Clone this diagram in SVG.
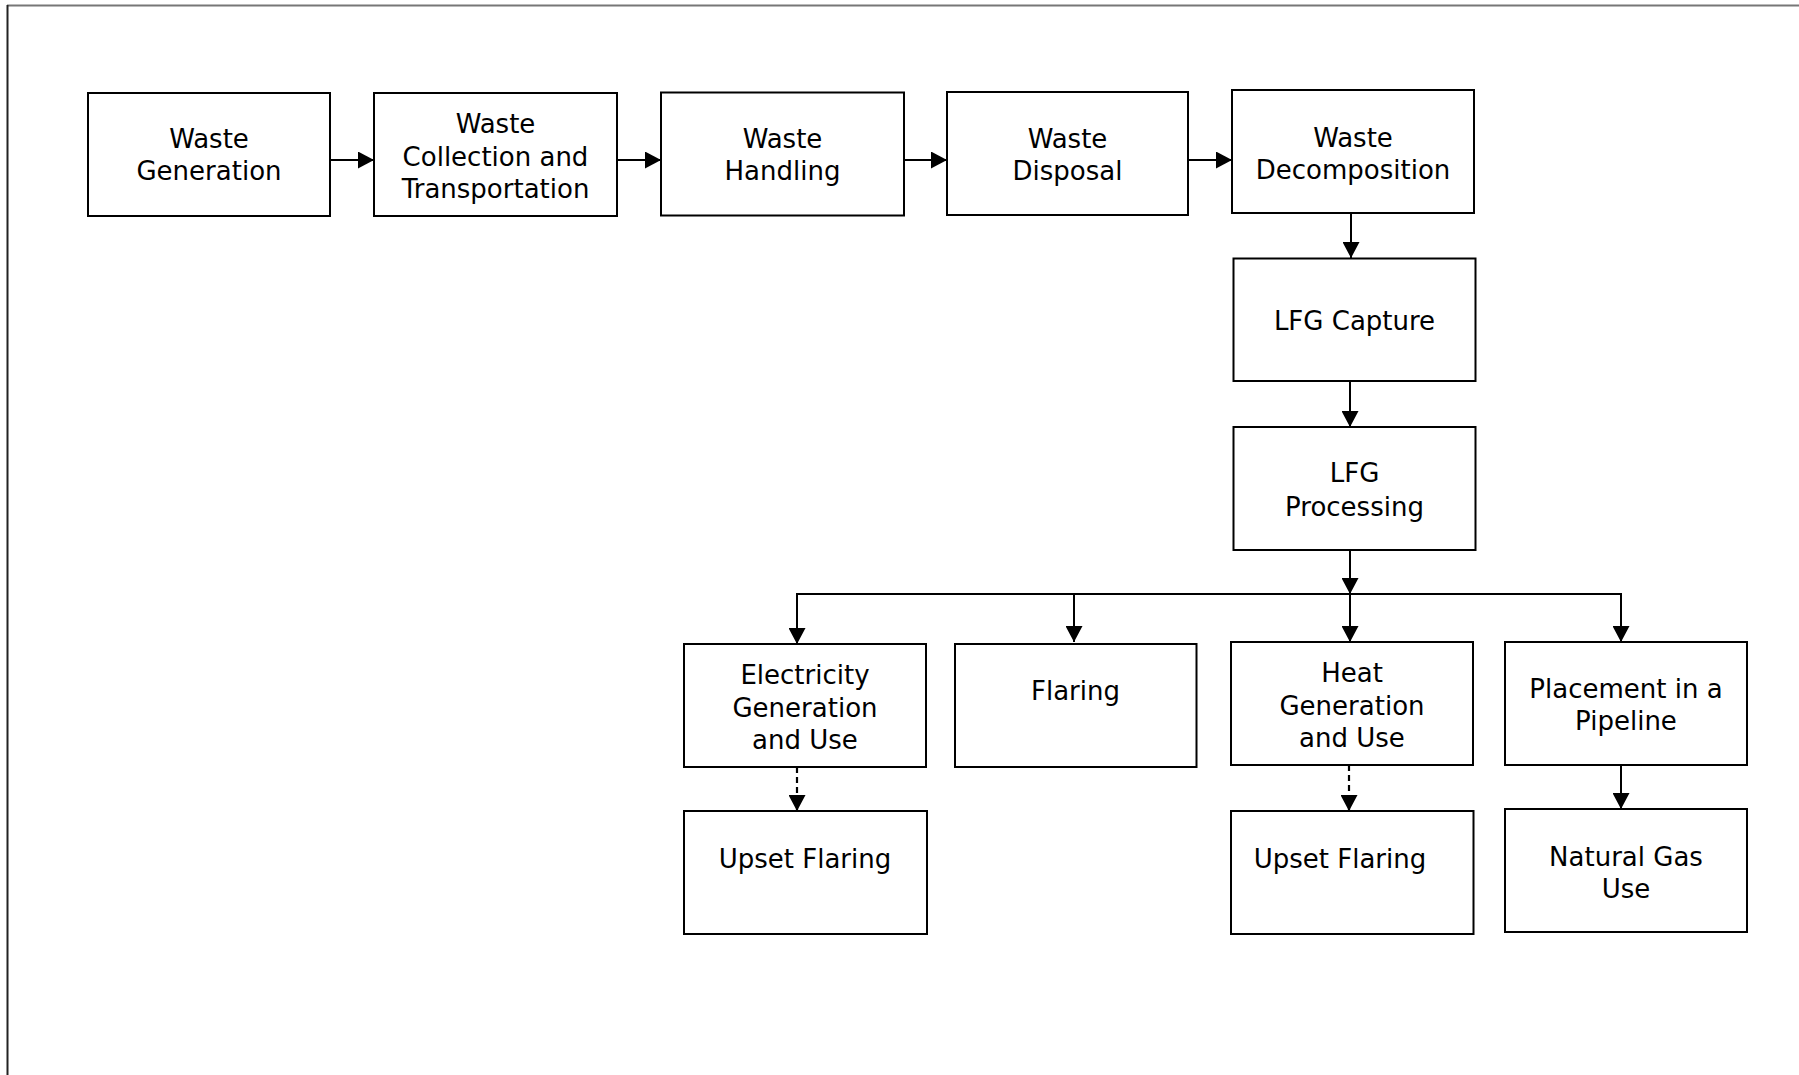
<svg xmlns="http://www.w3.org/2000/svg" width="1799" height="1075" viewBox="0 0 1799 1075">
<defs>
<marker id="arr" viewBox="0 0 16 17" refX="16" refY="8.5" markerWidth="16" markerHeight="17" markerUnits="userSpaceOnUse" orient="auto">
<path d="M0,0 L16,8.5 L0,17 Z" fill="#000"/>
</marker>
</defs>
<style>
.box{fill:#fff;stroke:#000;stroke-width:2}
.t{font-family:"DejaVu Sans",Verdana,sans-serif;font-size:26px;fill:#000;text-anchor:middle}
.c{stroke:#000;stroke-width:2;fill:none}
.d{stroke-dasharray:6 4;stroke-width:2.2}
</style>
<rect width="1799" height="1075" fill="#fff"/>
<line x1="7" y1="5.5" x2="1799" y2="5.5" stroke="#777" stroke-width="2"/>
<line x1="7.5" y1="5" x2="7.5" y2="1075" stroke="#222" stroke-width="2"/>

<g id="connectors">
<line class="c" x1="330" y1="160" x2="374" y2="160" marker-end="url(#arr)"/>
<line class="c" x1="617" y1="160" x2="661" y2="160" marker-end="url(#arr)"/>
<line class="c" x1="904" y1="160" x2="947" y2="160" marker-end="url(#arr)"/>
<line class="c" x1="1188" y1="160" x2="1232" y2="160" marker-end="url(#arr)"/>
<line class="c" x1="1351" y1="213" x2="1351" y2="258" marker-end="url(#arr)"/>
<line class="c" x1="1350" y1="381" x2="1350" y2="427" marker-end="url(#arr)"/>
<line class="c" x1="1350" y1="550" x2="1350" y2="594" marker-end="url(#arr)"/>
<polyline class="c" points="797,637 797,594 1621,594 1621,637"/>
<line class="c" x1="797" y1="594" x2="797" y2="644" marker-end="url(#arr)"/>
<line class="c" x1="1074" y1="594" x2="1074" y2="642" marker-end="url(#arr)"/>
<line class="c" x1="1350" y1="594" x2="1350" y2="642" marker-end="url(#arr)"/>
<line class="c" x1="1621" y1="594" x2="1621" y2="642" marker-end="url(#arr)"/>
<line class="c d" x1="797" y1="767" x2="797" y2="811" marker-end="url(#arr)"/>
<line class="c d" x1="1349" y1="765" x2="1349" y2="811" marker-end="url(#arr)"/>
<line class="c" x1="1621" y1="765" x2="1621" y2="809" marker-end="url(#arr)"/>
</g>

<g id="waste-generation">
<rect class="box" x="88" y="93" width="242" height="123"/>
<text class="t" x="209" y="148">Waste</text>
<text class="t" x="209" y="180">Generation</text>
</g>
<g id="waste-collection">
<rect class="box" x="374" y="93" width="243" height="123"/>
<text class="t" x="495.5" y="133">Waste</text>
<text class="t" x="495.5" y="165.5">Collection and</text>
<text class="t" x="495.5" y="198">Transportation</text>
</g>
<g id="waste-handling">
<rect class="box" x="661" y="92.5" width="243" height="123"/>
<text class="t" x="782.5" y="148">Waste</text>
<text class="t" x="782.5" y="180">Handling</text>
</g>
<g id="waste-disposal">
<rect class="box" x="947" y="92" width="241" height="123"/>
<text class="t" x="1067.5" y="148">Waste</text>
<text class="t" x="1067.5" y="180">Disposal</text>
</g>
<g id="waste-decomposition">
<rect class="box" x="1232" y="90" width="242" height="123"/>
<text class="t" x="1353" y="146.5">Waste</text>
<text class="t" x="1353" y="179">Decomposition</text>
</g>
<g id="lfg-capture">
<rect class="box" x="1233.5" y="258.5" width="242" height="122.5"/>
<text class="t" x="1354.5" y="330">LFG Capture</text>
</g>
<g id="lfg-processing">
<rect class="box" x="1233.5" y="427" width="242" height="123"/>
<text class="t" x="1354.5" y="482">LFG</text>
<text class="t" x="1354.5" y="515.5">Processing</text>
</g>
<g id="electricity">
<rect class="box" x="684" y="644" width="242" height="123"/>
<text class="t" x="805" y="684">Electricity</text>
<text class="t" x="805" y="716.5">Generation</text>
<text class="t" x="805" y="748.5">and Use</text>
</g>
<g id="flaring">
<rect class="box" x="955" y="644" width="241.5" height="123"/>
<text class="t" x="1075.5" y="700">Flaring</text>
</g>
<g id="heat">
<rect class="box" x="1231" y="642" width="242" height="123"/>
<text class="t" x="1352" y="681.5">Heat</text>
<text class="t" x="1352" y="715">Generation</text>
<text class="t" x="1352" y="746.5">and Use</text>
</g>
<g id="pipeline">
<rect class="box" x="1505" y="642" width="242" height="123"/>
<text class="t" x="1626" y="697.5">Placement in a</text>
<text class="t" x="1626" y="730">Pipeline</text>
</g>
<g id="upset-flaring-1">
<rect class="box" x="684" y="811" width="243" height="123"/>
<text class="t" x="805" y="868">Upset Flaring</text>
</g>
<g id="upset-flaring-2">
<rect class="box" x="1231" y="811" width="242.5" height="123"/>
<text class="t" x="1340" y="868">Upset Flaring</text>
</g>
<g id="natural-gas">
<rect class="box" x="1505" y="809" width="242" height="123"/>
<text class="t" x="1626" y="866">Natural Gas</text>
<text class="t" x="1626" y="897.5">Use</text>
</g>
</svg>
